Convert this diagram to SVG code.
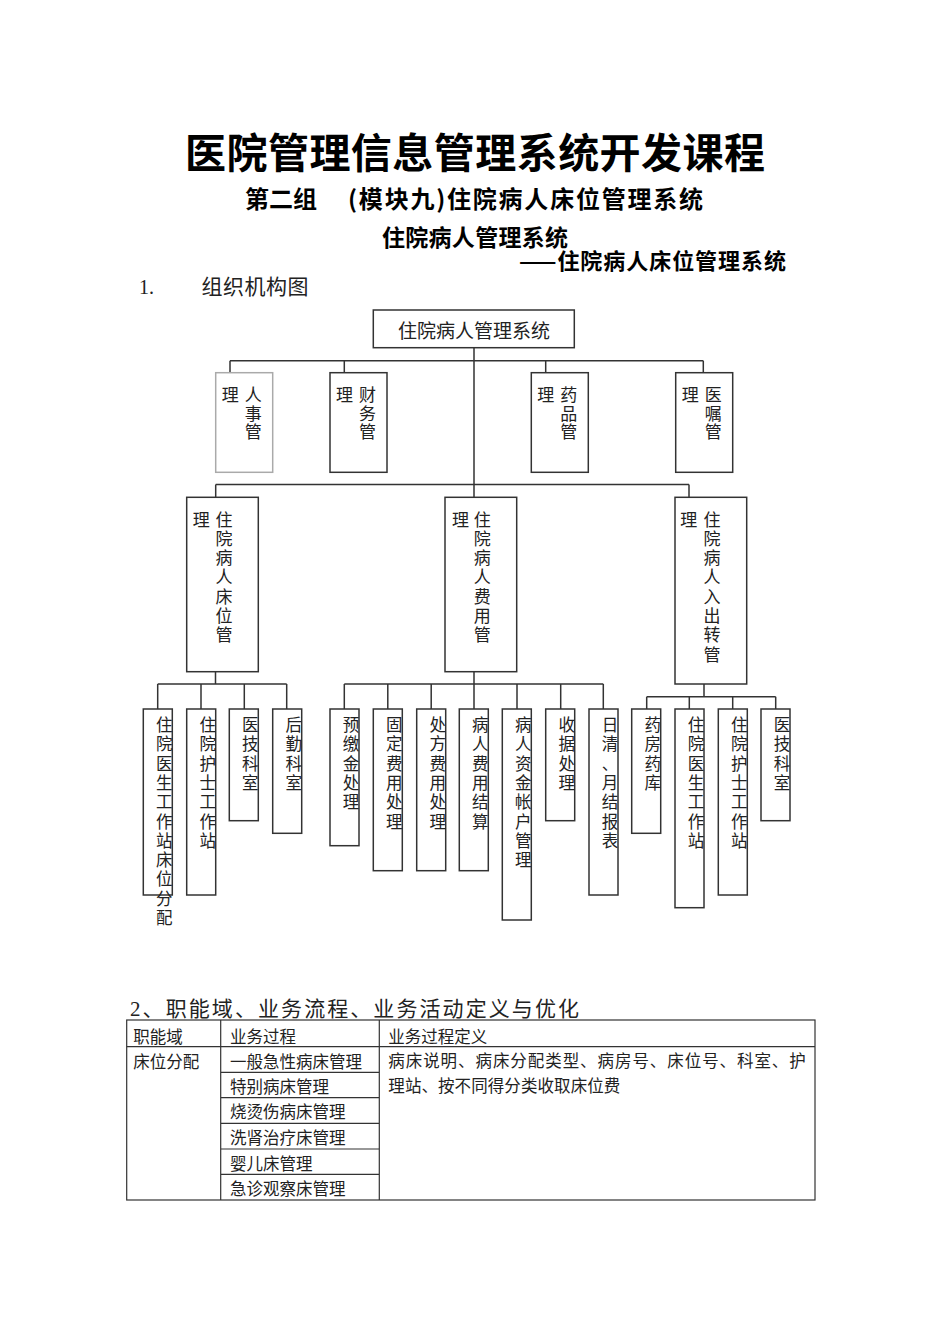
<svg xmlns="http://www.w3.org/2000/svg" width="950" height="1344" viewBox="0 0 950 1344">
<style>
.t{font-family:"Noto Sans CJK SC","Liberation Sans",sans-serif;fill:#222}
.h{font-family:"Noto Sans CJK SC","Liberation Sans",sans-serif;fill:#000;font-weight:700}
.l{font-size:17px;text-anchor:middle}
.s{font-size:16.5px;text-anchor:middle}
.bx{fill:#fff;stroke:#333;stroke-width:1.5}
.gx{fill:#fff;stroke:#aaa;stroke-width:1.5}
.cn{fill:none;stroke:#333;stroke-width:1.5}
.tb{fill:none;stroke:#333;stroke-width:1.2}
.tt{font-size:16.5px}
</style>
<rect width="950" height="1344" fill="#fff"/>
<g id="titles">
<text class="h" x="185" y="168" font-size="41" textLength="580" lengthAdjust="spacing">医院管理信息管理系统开发课程</text>
<text class="h" x="245" y="208" font-size="24" textLength="72" lengthAdjust="spacing">第二组</text>
<text class="h" x="348" y="208" font-size="24" textLength="355" lengthAdjust="spacing">(模块九)住院病人床位管理系统</text>
<text class="h" x="382" y="246" font-size="23" textLength="186" lengthAdjust="spacing">住院病人管理系统</text>
<text class="h" x="519" y="269" font-size="22" textLength="267" lengthAdjust="spacing">——住院病人床位管理系统</text>
<text class="t" x="139" y="294" font-size="20" style="font-family:'Liberation Serif',serif">1.</text>
<text class="t" x="201.5" y="294" font-size="21" textLength="107" lengthAdjust="spacing">组织机构图</text>
</g>
<g id="connectors">
<path class="cn" d="M474 347.7V497.3M230 360.7H703.3M230 360.7V372.7M344.3 360.7V372.7M545.7 360.7V372.7M703.3 360.7V372.7M215.7 484.5H689M215.7 484.5V497.3M689 484.5V497.3M215.5 671.7V684M157.7 684H286.7M157.7 684V709M201 684V709M244.3 684V709M286.7 684V709M474 671.7V709M344.3 684H603.3M344.3 684V709M387.8 684V709M431.2 684V709M517 684V709M560.7 684V709M603.3 684V709M704 684V696.7M646.7 696.7H775.7M646.7 696.7V709M689.3 696.7V709M732.7 696.7V709M775.7 696.7V709"/>
</g>
<g id="root">
<rect class="bx" x="373.3" y="310" width="201" height="37.7"/>
<text class="t" x="474" y="338" font-size="19" text-anchor="middle">住院病人管理系统</text>
</g>
<g id="n-renshi">
<rect class="gx" x="215.7" y="372.7" width="57" height="99.6"/>
<text class="t l"><tspan x="230.2" y="401">理</tspan><tspan x="253.2" y="401">人</tspan><tspan x="253.2" y="419.6">事</tspan><tspan x="253.2" y="438.2">管</tspan></text>
</g>
<g id="n-caiwu">
<rect class="bx" x="330" y="372.7" width="57" height="99.6"/>
<text class="t l"><tspan x="344.5" y="401">理</tspan><tspan x="367.5" y="401">财</tspan><tspan x="367.5" y="419.6">务</tspan><tspan x="367.5" y="438.2">管</tspan></text>
</g>
<g id="n-yaopin">
<rect class="bx" x="531.3" y="372.7" width="57" height="99.6"/>
<text class="t l"><tspan x="545.8" y="401">理</tspan><tspan x="568.8" y="401">药</tspan><tspan x="568.8" y="419.6">品</tspan><tspan x="568.8" y="438.2">管</tspan></text>
</g>
<g id="n-yizhu">
<rect class="bx" x="675.7" y="372.7" width="57" height="99.6"/>
<text class="t l"><tspan x="690.2" y="401">理</tspan><tspan x="713.2" y="401">医</tspan><tspan x="713.2" y="419.6">嘱</tspan><tspan x="713.2" y="438.2">管</tspan></text>
</g>
<g id="n-chuangwei">
<rect class="bx" x="186.7" y="497.3" width="71.6" height="174.4"/>
<text class="t l"><tspan x="201.2" y="525.5">理</tspan><tspan x="224" y="525.5">住</tspan><tspan x="224" y="544.8">院</tspan><tspan x="224" y="564.1">病</tspan><tspan x="224" y="583.4">人</tspan><tspan x="224" y="602.7">床</tspan><tspan x="224" y="622">位</tspan><tspan x="224" y="641.3">管</tspan></text>
</g>
<g id="n-feiyong">
<rect class="bx" x="445" y="497.3" width="71.7" height="174.4"/>
<text class="t l"><tspan x="460.5" y="525.5">理</tspan><tspan x="482.3" y="525.5">住</tspan><tspan x="482.3" y="544.8">院</tspan><tspan x="482.3" y="564.1">病</tspan><tspan x="482.3" y="583.4">人</tspan><tspan x="482.3" y="602.7">费</tspan><tspan x="482.3" y="622">用</tspan><tspan x="482.3" y="641.3">管</tspan></text>
</g>
<g id="n-ruchuzhuan">
<rect class="bx" x="675" y="497.3" width="71.7" height="186.7"/>
<text class="t l"><tspan x="688.7" y="525.5">理</tspan><tspan x="712" y="525.5">住</tspan><tspan x="712" y="544.8">院</tspan><tspan x="712" y="564.1">病</tspan><tspan x="712" y="583.4">人</tspan><tspan x="712" y="602.7">入</tspan><tspan x="712" y="622">出</tspan><tspan x="712" y="641.3">转</tspan><tspan x="712" y="660.6">管</tspan></text>
</g>
<g id="n-b1">
<rect class="bx" x="143.3" y="709" width="29" height="186"/>
<text class="t s"><tspan x="164.3" y="731">住</tspan><tspan x="164.3" y="750.3">院</tspan><tspan x="164.3" y="769.6">医</tspan><tspan x="164.3" y="788.9">生</tspan><tspan x="164.3" y="808.2">工</tspan><tspan x="164.3" y="827.5">作</tspan><tspan x="164.3" y="846.8">站</tspan><tspan x="164.3" y="866.1">床</tspan><tspan x="164.3" y="885.4">位</tspan><tspan x="164.3" y="904.7">分</tspan><tspan x="164.3" y="924">配</tspan></text>
</g>
<g id="n-b2">
<rect class="bx" x="186.7" y="709" width="29" height="186"/>
<text class="t s"><tspan x="207.7" y="731">住</tspan><tspan x="207.7" y="750.3">院</tspan><tspan x="207.7" y="769.6">护</tspan><tspan x="207.7" y="788.9">士</tspan><tspan x="207.7" y="808.2">工</tspan><tspan x="207.7" y="827.5">作</tspan><tspan x="207.7" y="846.8">站</tspan></text>
</g>
<g id="n-b3">
<rect class="bx" x="229.3" y="709" width="29" height="111.7"/>
<text class="t s"><tspan x="250.3" y="731">医</tspan><tspan x="250.3" y="750.3">技</tspan><tspan x="250.3" y="769.6">科</tspan><tspan x="250.3" y="788.9">室</tspan></text>
</g>
<g id="n-b4">
<rect class="bx" x="272.7" y="709" width="29" height="124.3"/>
<text class="t s"><tspan x="293.7" y="731">后</tspan><tspan x="293.7" y="750.3">勤</tspan><tspan x="293.7" y="769.6">科</tspan><tspan x="293.7" y="788.9">室</tspan></text>
</g>
<g id="n-b5">
<rect class="bx" x="330" y="709" width="29" height="136.7"/>
<text class="t s"><tspan x="351" y="731">预</tspan><tspan x="351" y="750.3">缴</tspan><tspan x="351" y="769.6">金</tspan><tspan x="351" y="788.9">处</tspan><tspan x="351" y="808.2">理</tspan></text>
</g>
<g id="n-b6">
<rect class="bx" x="373.3" y="709" width="29" height="161.7"/>
<text class="t s"><tspan x="394.3" y="731">固</tspan><tspan x="394.3" y="750.3">定</tspan><tspan x="394.3" y="769.6">费</tspan><tspan x="394.3" y="788.9">用</tspan><tspan x="394.3" y="808.2">处</tspan><tspan x="394.3" y="827.5">理</tspan></text>
</g>
<g id="n-b7">
<rect class="bx" x="416.7" y="709" width="29" height="161.7"/>
<text class="t s"><tspan x="437.7" y="731">处</tspan><tspan x="437.7" y="750.3">方</tspan><tspan x="437.7" y="769.6">费</tspan><tspan x="437.7" y="788.9">用</tspan><tspan x="437.7" y="808.2">处</tspan><tspan x="437.7" y="827.5">理</tspan></text>
</g>
<g id="n-b8">
<rect class="bx" x="459.3" y="709" width="29" height="161.7"/>
<text class="t s"><tspan x="480.3" y="731">病</tspan><tspan x="480.3" y="750.3">人</tspan><tspan x="480.3" y="769.6">费</tspan><tspan x="480.3" y="788.9">用</tspan><tspan x="480.3" y="808.2">结</tspan><tspan x="480.3" y="827.5">算</tspan></text>
</g>
<g id="n-b9">
<rect class="bx" x="502.3" y="709" width="29" height="211"/>
<text class="t s"><tspan x="523.3" y="731">病</tspan><tspan x="523.3" y="750.3">人</tspan><tspan x="523.3" y="769.6">资</tspan><tspan x="523.3" y="788.9">金</tspan><tspan x="523.3" y="808.2">帐</tspan><tspan x="523.3" y="827.5">户</tspan><tspan x="523.3" y="846.8">管</tspan><tspan x="523.3" y="866.1">理</tspan></text>
</g>
<g id="n-b10">
<rect class="bx" x="545.7" y="709" width="29" height="111.7"/>
<text class="t s"><tspan x="566.7" y="731">收</tspan><tspan x="566.7" y="750.3">据</tspan><tspan x="566.7" y="769.6">处</tspan><tspan x="566.7" y="788.9">理</tspan></text>
</g>
<g id="n-b11">
<rect class="bx" x="589" y="709" width="29" height="186"/>
<text class="t s"><tspan x="610" y="731">日</tspan><tspan x="610" y="750.3">清</tspan><tspan x="610" y="769.6">、</tspan><tspan x="610" y="788.9">月</tspan><tspan x="610" y="808.2">结</tspan><tspan x="610" y="827.5">报</tspan><tspan x="610" y="846.8">表</tspan></text>
</g>
<g id="n-b12">
<rect class="bx" x="631.7" y="709" width="29" height="124.3"/>
<text class="t s"><tspan x="652.7" y="731">药</tspan><tspan x="652.7" y="750.3">房</tspan><tspan x="652.7" y="769.6">药</tspan><tspan x="652.7" y="788.9">库</tspan></text>
</g>
<g id="n-b13">
<rect class="bx" x="675" y="709" width="29" height="198.7"/>
<text class="t s"><tspan x="696" y="731">住</tspan><tspan x="696" y="750.3">院</tspan><tspan x="696" y="769.6">医</tspan><tspan x="696" y="788.9">生</tspan><tspan x="696" y="808.2">工</tspan><tspan x="696" y="827.5">作</tspan><tspan x="696" y="846.8">站</tspan></text>
</g>
<g id="n-b14">
<rect class="bx" x="718.3" y="709" width="29" height="186"/>
<text class="t s"><tspan x="739.3" y="731">住</tspan><tspan x="739.3" y="750.3">院</tspan><tspan x="739.3" y="769.6">护</tspan><tspan x="739.3" y="788.9">士</tspan><tspan x="739.3" y="808.2">工</tspan><tspan x="739.3" y="827.5">作</tspan><tspan x="739.3" y="846.8">站</tspan></text>
</g>
<g id="n-b15">
<rect class="bx" x="761" y="709" width="29" height="111.7"/>
<text class="t s"><tspan x="782" y="731">医</tspan><tspan x="782" y="750.3">技</tspan><tspan x="782" y="769.6">科</tspan><tspan x="782" y="788.9">室</tspan></text>
</g>
<g id="section2">
<text class="t" x="130" y="1016" font-size="21" textLength="449" lengthAdjust="spacing"><tspan style="font-family:'Liberation Serif',serif">2</tspan>、职能域、业务流程、业务活动定义与优化</text>
<rect class="tb" x="126.7" y="1020" width="688.3" height="180"/>
<path class="tb" d="M126.7 1046.7H815M220.7 1020V1200M379.3 1020V1200M220.7 1072.3H379.3M220.7 1097.7H379.3M220.7 1123.3H379.3M220.7 1149H379.3M220.7 1174.3H379.3"/>
<text class="t tt" x="133.3" y="1043">职能域</text>
<text class="t tt" x="230" y="1043">业务过程</text>
<text class="t tt" x="388.3" y="1043">业务过程定义</text>
<text class="t tt" x="133.3" y="1068">床位分配</text>
<text class="t tt" x="230" y="1068">一般急性病床管理</text>
<text class="t tt" x="230" y="1093">特别病床管理</text>
<text class="t tt" x="230" y="1118">烧烫伤病床管理</text>
<text class="t tt" x="230" y="1144">洗肾治疗床管理</text>
<text class="t tt" x="230" y="1169.6">婴儿床管理</text>
<text class="t tt" x="230" y="1194.6">急诊观察床管理</text>
<text class="t tt" x="388.3" y="1066.5" textLength="417.5" lengthAdjust="spacing">病床说明、病床分配类型、病房号、床位号、科室、护</text>
<text class="t tt" x="388.3" y="1091.5" textLength="232" lengthAdjust="spacing">理站、按不同得分类收取床位费</text>
</g>
</svg>
